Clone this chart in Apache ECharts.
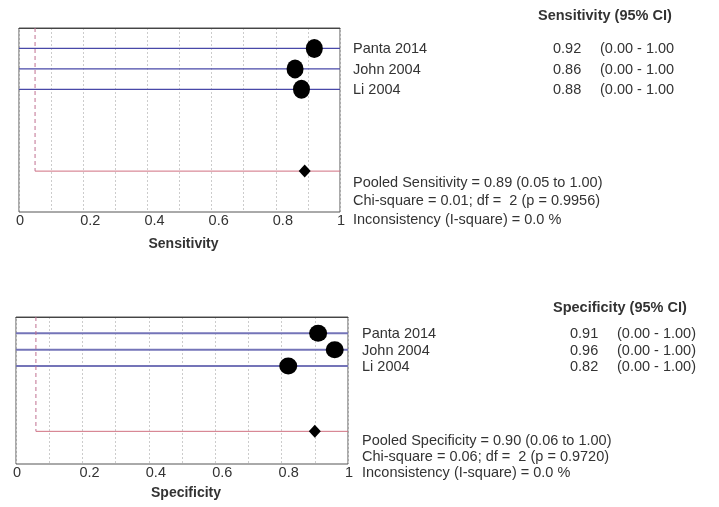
<!DOCTYPE html>
<html><head><meta charset="utf-8">
<script src="https://cdn.jsdelivr.net/npm/echarts@6/dist/echarts.min.js"></script>
<style>html,body{margin:0;padding:0;background:#fff}#c{width:719px;height:507px}</style>
</head><body><div id="c"></div>
<script>
const studies = ['Panta 2014', 'John 2004', 'Li 2004'];
const rows = [1, 2, 3];
const pooledRow = 7;
const sensEst = [0.92, 0.86, 0.88];
const sensLo = [0.00, 0.00, 0.00];
const sensHi = [1.00, 1.00, 1.00];
const sensPooled = [0.89, 0.05, 1.00];
const sensStats = ['Chi-square = 0.01; df =  2 (p = 0.9956)', 'Inconsistency (I-square) = 0.0 %'];
const specEst = [0.91, 0.96, 0.82];
const specLo = [0.00, 0.00, 0.00];
const specHi = [1.00, 1.00, 1.00];
const specPooled = [0.90, 0.06, 1.00];
const specStats = ['Chi-square = 0.06; df =  2 (p = 0.9720)', 'Inconsistency (I-square) = 0.0 %'];
const xTicks = [0, 0.2, 0.4, 0.6, 0.8, 1];

const FONT = '"Liberation Sans", Arial, sans-serif';
const chart = echarts.init(document.getElementById('c'));

function xAxis(gi, name, gap) {
  return {
    type: 'value', gridIndex: gi, min: 0, max: 1, interval: 0.2,
    name: name, nameLocation: 'middle', nameGap: gap,
    nameTextStyle: {fontFamily: FONT, fontWeight: 'bold', fontSize: 14, color: '#333', padding: [0, 0, 0, 8]},
    axisLine: {show: true, lineStyle: {color: '#444', width: 1}},
    axisTick: {show: false},
    axisLabel: {fontFamily: FONT, fontSize: 14.5, color: '#333', margin: 1, align: 'left', padding: [0, 0, 0, -3],
      formatter: v => xTicks.indexOf(Math.round(v * 10) / 10) >= 0 ? String(Math.round(v * 10) / 10) : ''},
    splitLine: {show: true, lineStyle: {color: '#ccc', type: [2, 2]}},
    minorTick: {show: true, splitNumber: 2, length: 0},
    minorSplitLine: {show: true, lineStyle: {color: '#ccc', type: [2, 2]}}
  };
}
function yAxis(gi) {
  return {type: 'value', gridIndex: gi, min: 0, max: 9, inverse: true,
    axisLine: {show: false}, axisTick: {show: false}, axisLabel: {show: false}, splitLine: {show: false}};
}
function ciSeries(gi, lo, hi, color, width) {
  return {
    type: 'custom', xAxisIndex: gi, yAxisIndex: gi, clip: false,
    data: rows.map((r, i) => [lo[i], hi[i], r]),
    encode: {x: [0, 1], y: 2},
    renderItem: (params, api) => {
      const a = api.coord([api.value(0), api.value(2)]);
      const b = api.coord([api.value(1), api.value(2)]);
      return {type: 'line', shape: {x1: a[0], y1: a[1], x2: b[0], y2: b[1]},
        style: {stroke: color, lineWidth: width}};
    }
  };
}
function pooledLines(gi, pooled) {
  return {
    type: 'custom', xAxisIndex: gi, yAxisIndex: gi, clip: false,
    data: [[pooled[1], pooled[2], pooledRow]],
    encode: {x: [0, 1], y: 2},
    renderItem: (params, api) => {
      const a = api.coord([api.value(0), api.value(2)]);
      const b = api.coord([api.value(1), api.value(2)]);
      const t = api.coord([api.value(0), 0]);
      return {type: 'group', children: [
        {type: 'line', shape: {x1: a[0], y1: a[1], x2: b[0], y2: b[1]}, style: {stroke: '#d07080', lineWidth: 1}},
        {type: 'line', shape: {x1: t[0], y1: t[1], x2: a[0], y2: a[1]}, style: {stroke: '#c07090', lineWidth: 1, lineDash: [4, 3]}}
      ]};
    }
  };
}
function pointSeries(gi, est, size) {
  return {type: 'scatter', xAxisIndex: gi, yAxisIndex: gi, symbol: 'circle', symbolSize: size,
    itemStyle: {color: '#000', opacity: 1}, data: rows.map((r, i) => [est[i], r]), z: 5};
}
function diamondSeries(gi, pooled) {
  return {type: 'scatter', xAxisIndex: gi, yAxisIndex: gi, symbol: 'diamond', symbolSize: [12, 13],
    itemStyle: {color: '#000', opacity: 1}, data: [[pooled[0], pooledRow]], z: 5};
}

chart.setOption({
  animation: false,
  grid: [
    {left: 19, top: 28, width: 321, height: 184, show: true, borderColor: '#555', borderWidth: 1, backgroundColor: '#fff'},
    {left: 16, top: 317, width: 332, height: 147, show: true, borderColor: '#555', borderWidth: 1, backgroundColor: '#fff'}
  ],
  xAxis: [xAxis(0, 'Sensitivity', 25), xAxis(1, 'Specificity', 22)],
  yAxis: [yAxis(0), yAxis(1)],
  series: [
    ciSeries(0, sensLo, sensHi, '#4848a8', 1.3),
    pooledLines(0, sensPooled),
    pointSeries(0, sensEst, [17, 19]),
    diamondSeries(0, sensPooled),
    ciSeries(1, specLo, specHi, '#7474b8', 2),
    pooledLines(1, specPooled),
    pointSeries(1, specEst, [18, 17]),
    diamondSeries(1, specPooled)
  ]
});

function panelText(gi, cfg, title, est, lo, hi, pooled, stats, label, closeParen) {
  const els = [];
  const yAt = r => chart.convertToPixel({gridIndex: gi}, [0, r])[1];
  const st = (extra) => Object.assign({fontFamily: FONT, fontSize: cfg.fs, fill: '#333', verticalAlign: 'middle', align: 'left'}, extra || {});
  els.push({type: 'text', x: cfg.hx, y: cfg.hy, style: st({text: title, fontWeight: 'bold', fontSize: 14.5})});
  rows.forEach((r, i) => {
    const y = yAt(r) + 1;
    els.push({type: 'text', x: cfg.nx, y: y, style: st({text: studies[i]})});
    els.push({type: 'text', x: cfg.ex, y: y, style: st({text: est[i].toFixed(2)})});
    els.push({type: 'text', x: cfg.cx, y: y, style: st({text: '(' + lo[i].toFixed(2) + ' - ' + hi[i].toFixed(2) + closeParen})});
  });
  const lines = ['Pooled ' + label + ' = ' + pooled[0].toFixed(2) + ' (' + pooled[1].toFixed(2) + ' to ' + pooled[2].toFixed(2) + ')'].concat(stats);
  lines.forEach((t, k) => {
    els.push({type: 'text', x: cfg.nx, y: cfg.py[k], style: st({text: t})});
  });
  return els;
}
const g = [].concat(
  panelText(0, {fs: 14.5, hx: 538, hy: 16, nx: 353, ex: 553, cx: 600, py: [183, 201, 220]},
    'Sensitivity (95% CI)', sensEst, sensLo, sensHi, sensPooled, sensStats, 'Sensitivity', ''),
  panelText(1, {fs: 14.5, hx: 553, hy: 308, nx: 362, ex: 570, cx: 617, py: [441, 457, 473]},
    'Specificity (95% CI)', specEst, specLo, specHi, specPooled, specStats, 'Specificity', ')')
);
chart.setOption({graphic: g});
</script></body></html>
